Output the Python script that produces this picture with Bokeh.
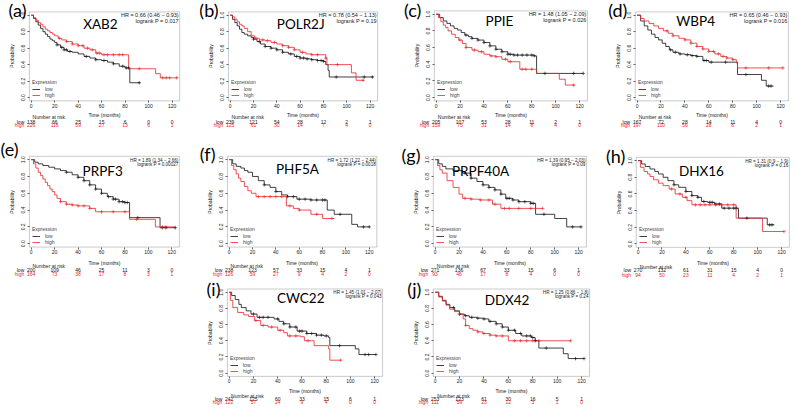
from bokeh.plotting import figure
from bokeh.layouts import column, row
from bokeh.models import (Range1d, Label, Legend, LegendItem, FixedTicker,
                          Spacer, PrintfTickFormatter, BoxAnnotation)
from bokeh.embed import file_html
from bokeh.resources import INLINE

# ------------------------------------------------------------------ data
tags = ["(a)", "(b)", "(c)", "(d)", "(e)", "(f)", "(g)", "(h)", "(i)", "(j)"]
genes = ["XAB2", "POLR2J", "PPIE", "WBP4", "PRPF3", "PHF5A", "PRPF40A", "DHX16", "CWC22", "DDX42"]
hr_texts = ["HR = 0.66 (0.46 \u2212 0.93)", "HR = 0.78 (0.54 \u2212 1.13)", "HR = 1.48 (1.05 \u2212 2.09)",
            "HR = 0.65 (0.46 \u2212 0.93)", "HR = 1.89 (1.34 \u2212 2.66)", "HR = 1.72 (1.22 \u2212 2.44)",
            "HR = 1.39 (0.95 \u2212 2.03)", "HR = 1.31 (0.9 \u2212 1.9)", "HR = 1.45 (1.01 \u2212 2.07)",
            "HR = 1.25 (0.86 \u2212 1.8)"]
p_texts = ["logrank P = 0.017", "logrank P = 0.19", "logrank P = 0.026", "logrank P = 0.016",
           "logrank P = 0.00027", "logrank P = 0.0018", "logrank P = 0.09", "logrank P = 0.16",
           "logrank P = 0.043", "logrank P = 0.24"]
risk_times = [0, 20, 40, 60, 80, 100, 120]
y_ticks = [0.0, 0.2, 0.4, 0.6, 0.8, 1.0]

# (a) XAB2
a_low_t = [0, 2, 4, 6, 8, 10, 12, 14, 16, 18, 20, 22, 25, 28, 31, 35, 40, 45, 50, 55, 60, 65, 70, 75, 80, 84, 93]
a_low_s = [1.0, 0.96, 0.92, 0.88, 0.84, 0.80, 0.77, 0.74, 0.71, 0.69, 0.67, 0.64, 0.61, 0.58, 0.56, 0.55, 0.53, 0.50, 0.48, 0.46, 0.45, 0.43, 0.41, 0.38, 0.36, 0.18, 0.18]
a_high_t = [0, 2, 4, 6, 8, 10, 12, 14, 16, 18, 20, 23, 26, 30, 35, 40, 45, 50, 55, 60, 83, 106, 110, 125]
a_high_s = [1.0, 0.97, 0.94, 0.91, 0.89, 0.86, 0.83, 0.81, 0.79, 0.77, 0.75, 0.72, 0.70, 0.68, 0.65, 0.63, 0.60, 0.58, 0.54, 0.52, 0.35, 0.29, 0.24, 0.24]
a_low_c = [22, 26, 28, 30, 33, 47, 55, 62, 70, 78, 81, 83, 92]
a_high_c = [24, 30, 35, 40, 44, 48, 52, 56, 58, 62, 65, 70, 75, 78, 92, 112, 115, 118, 124]
a_risk_low = [138, 66, 25, 15, 6, 0, 0]
a_risk_high = [226, 116, 59, 27, 13, 6, 1]

# (b) POLR2J
b_low_t = [0, 2, 4, 6, 8, 10, 12, 15, 18, 20, 23, 26, 30, 35, 40, 45, 50, 55, 60, 65, 70, 75, 80, 82, 84, 85, 123]
b_low_s = [1.0, 0.95, 0.91, 0.87, 0.83, 0.79, 0.77, 0.75, 0.73, 0.71, 0.68, 0.65, 0.62, 0.60, 0.58, 0.55, 0.53, 0.50, 0.48, 0.47, 0.46, 0.45, 0.44, 0.40, 0.33, 0.25, 0.25]
b_high_t = [0, 2, 4, 6, 8, 10, 12, 15, 18, 21, 25, 30, 35, 40, 45, 50, 55, 60, 65, 70, 82, 83, 104, 108, 115]
b_high_s = [1.0, 0.98, 0.95, 0.92, 0.89, 0.87, 0.84, 0.80, 0.75, 0.72, 0.70, 0.69, 0.67, 0.65, 0.63, 0.61, 0.58, 0.55, 0.53, 0.52, 0.48, 0.40, 0.30, 0.21, 0.21]
b_low_c = [20, 25, 30, 35, 40, 45, 52, 57, 60, 63, 66, 70, 75, 78, 80, 91, 115, 122]
b_high_c = [22, 28, 32, 38, 45, 50, 55, 62, 70, 75, 82, 92, 114]
b_risk_low = [239, 121, 54, 28, 12, 2, 1]
b_risk_high = [125, 61, 30, 14, 7, 4, 0]

# (c) PPIE
c_low_t = [0, 3, 6, 9, 12, 15, 18, 21, 24, 27, 30, 35, 40, 45, 50, 55, 60, 65, 70, 82, 84, 123]
c_low_s = [1.0, 0.96, 0.92, 0.89, 0.86, 0.83, 0.81, 0.78, 0.75, 0.73, 0.71, 0.69, 0.66, 0.62, 0.58, 0.55, 0.52, 0.51, 0.51, 0.50, 0.29, 0.29]
c_high_t = [0, 2, 4, 6, 8, 10, 13, 16, 19, 22, 25, 30, 35, 40, 45, 50, 55, 60, 70, 84, 103, 108, 116]
c_high_s = [1.0, 0.96, 0.91, 0.87, 0.84, 0.80, 0.76, 0.72, 0.69, 0.65, 0.60, 0.57, 0.55, 0.52, 0.50, 0.49, 0.46, 0.43, 0.34, 0.29, 0.22, 0.15, 0.15]
c_low_c = [25, 30, 35, 40, 45, 50, 55, 60, 62, 65, 68, 72, 76, 80, 82, 91, 115, 123]
c_high_c = [20, 25, 32, 38, 46, 50, 58, 62, 72, 75, 80, 115]
c_risk_low = [205, 107, 53, 28, 11, 2, 1]
c_risk_high = [159, 75, 31, 14, 8, 4, 0]

# (d) WBP4
d_low_t = [0, 3, 6, 9, 12, 15, 18, 21, 24, 27, 30, 35, 40, 45, 50, 55, 60, 82, 84, 104, 108, 114]
d_low_s = [1.0, 0.93, 0.87, 0.82, 0.77, 0.73, 0.70, 0.66, 0.62, 0.58, 0.55, 0.53, 0.52, 0.51, 0.50, 0.45, 0.43, 0.43, 0.28, 0.21, 0.14, 0.14]
d_high_t = [0, 3, 6, 10, 14, 18, 22, 26, 30, 35, 40, 45, 50, 55, 60, 65, 70, 75, 80, 83, 84, 122]
d_high_s = [1.0, 0.96, 0.93, 0.90, 0.87, 0.84, 0.81, 0.78, 0.75, 0.72, 0.70, 0.66, 0.62, 0.59, 0.56, 0.53, 0.50, 0.48, 0.46, 0.42, 0.36, 0.36]
d_low_c = [28, 32, 36, 42, 46, 50, 56, 58, 62, 74, 91, 110, 112]
d_high_c = [25, 30, 40, 45, 50, 55, 60, 64, 68, 72, 75, 80, 91, 110, 122]
d_risk_low = [167, 72, 28, 14, 11, 4, 0]
d_risk_high = [197, 110, 56, 28, 8, 2, 1]

# (e) PRPF3
e_low_t = [0, 3, 6, 10, 15, 20, 25, 30, 35, 40, 45, 50, 55, 60, 65, 70, 75, 80, 84, 110, 123]
e_low_s = [1.0, 0.97, 0.95, 0.93, 0.91, 0.89, 0.87, 0.85, 0.82, 0.79, 0.75, 0.70, 0.65, 0.60, 0.56, 0.53, 0.50, 0.49, 0.31, 0.19, 0.19]
e_high_t = [0, 2, 4, 6, 8, 10, 12, 14, 16, 18, 20, 22, 25, 30, 35, 40, 50, 55, 84, 106, 123]
e_high_s = [1.0, 0.95, 0.90, 0.85, 0.81, 0.77, 0.73, 0.69, 0.65, 0.62, 0.58, 0.54, 0.50, 0.47, 0.46, 0.45, 0.42, 0.38, 0.29, 0.20, 0.20]
e_low_c = [30, 40, 45, 50, 55, 60, 66, 70, 72, 75, 78, 80, 82, 91, 112, 115, 123]
e_high_c = [25, 30, 35, 40, 45, 50, 60, 70, 80, 90, 112, 115]
e_risk_low = [200, 109, 46, 25, 11, 3, 0]
e_risk_high = [164, 73, 38, 17, 8, 3, 1]

# (f) PHF5A
f_low_t = [0, 3, 6, 10, 13, 16, 20, 25, 30, 35, 40, 45, 50, 58, 70, 84, 90, 105, 110, 120]
f_low_s = [1.0, 0.95, 0.92, 0.90, 0.87, 0.85, 0.80, 0.75, 0.70, 0.67, 0.62, 0.58, 0.56, 0.53, 0.52, 0.40, 0.35, 0.23, 0.20, 0.20]
f_high_t = [0, 2, 4, 6, 8, 10, 13, 16, 19, 23, 49, 55, 60, 70, 80, 90]
f_high_s = [1.0, 0.93, 0.88, 0.83, 0.78, 0.74, 0.68, 0.63, 0.60, 0.56, 0.45, 0.42, 0.40, 0.35, 0.30, 0.30]
f_low_c = [30, 40, 50, 55, 60, 65, 70, 75, 80, 82, 95, 115, 120]
f_high_c = [25, 30, 35, 40, 45, 52, 60, 75, 88]
f_risk_low = [238, 123, 57, 33, 15, 4, 1]
f_risk_high = [126, 59, 27, 9, 4, 2, 0]

# (g) PRPF40A
g_low_t = [0, 3, 6, 9, 15, 23, 30, 35, 40, 45, 50, 55, 59, 65, 70, 80, 84, 100, 110, 122]
g_low_s = [1.0, 0.95, 0.92, 0.89, 0.87, 0.84, 0.78, 0.74, 0.70, 0.67, 0.64, 0.59, 0.54, 0.52, 0.50, 0.48, 0.35, 0.30, 0.20, 0.20]
g_high_t = [0, 2, 4, 6, 10, 15, 20, 23, 30, 37, 48, 55, 90]
g_high_s = [1.0, 0.93, 0.88, 0.84, 0.75, 0.67, 0.59, 0.54, 0.53, 0.52, 0.47, 0.42, 0.42]
g_low_c = [25, 30, 40, 45, 50, 55, 60, 62, 65, 70, 75, 80, 82, 91, 115, 122]
g_high_c = [25, 30, 38, 45, 50, 58, 62, 70, 80, 90]
g_risk_low = [271, 136, 67, 33, 15, 6, 1]
g_risk_high = [93, 46, 17, 8, 4, 0, 0]

# (h) DHX16
h_low_t = [0, 3, 6, 10, 14, 17, 21, 25, 30, 34, 40, 45, 50, 53, 58, 64, 70, 84, 108, 114]
h_low_s = [1.0, 0.96, 0.93, 0.90, 0.87, 0.84, 0.80, 0.76, 0.71, 0.68, 0.63, 0.58, 0.56, 0.51, 0.50, 0.48, 0.43, 0.31, 0.23, 0.23]
h_high_t = [0, 2, 5, 8, 10, 13, 17, 21, 26, 31, 37, 41, 45, 82, 104, 122]
h_high_s = [1.0, 0.92, 0.87, 0.84, 0.81, 0.77, 0.73, 0.70, 0.66, 0.60, 0.56, 0.52, 0.47, 0.31, 0.15, 0.15]
h_low_c = [30, 40, 45, 50, 55, 60, 62, 65, 68, 72, 76, 80, 82, 91, 110, 112]
h_high_c = [28, 35, 40, 48, 52, 56, 60, 65, 70, 75, 80, 122]
h_risk_low = [270, 132, 61, 31, 15, 4, 0]
h_risk_high = [94, 50, 23, 11, 4, 2, 1]

# (i) CWC22
i_low_t = [0, 2, 5, 8, 10, 14, 18, 23, 37, 41, 45, 50, 56, 64, 72, 78, 82, 83, 104, 107, 121]
i_low_s = [1.0, 0.96, 0.91, 0.85, 0.81, 0.77, 0.73, 0.69, 0.67, 0.64, 0.61, 0.57, 0.52, 0.49, 0.47, 0.46, 0.44, 0.34, 0.30, 0.23, 0.23]
i_high_t = [0, 1, 3, 7, 12, 16, 21, 26, 32, 40, 45, 48, 59, 62, 70, 82, 83, 92]
i_high_s = [1.0, 0.90, 0.81, 0.75, 0.72, 0.70, 0.65, 0.59, 0.57, 0.53, 0.50, 0.46, 0.45, 0.40, 0.34, 0.30, 0.16, 0.16]
i_low_c = [20, 25, 28, 32, 40, 45, 50, 55, 58, 60, 64, 68, 72, 76, 80, 91, 112, 115, 121]
i_high_c = [22, 28, 35, 42, 50, 55, 65, 92]
i_risk_low = [242, 125, 60, 33, 15, 6, 1]
i_risk_high = [122, 57, 24, 9, 4, 0, 0]

# (j) DDX42
j_low_t = [0, 3, 6, 9, 12, 16, 20, 24, 28, 34, 39, 44, 50, 55, 60, 66, 71, 79, 82, 85, 105, 109, 122]
j_low_s = [1.0, 0.95, 0.90, 0.85, 0.81, 0.77, 0.73, 0.71, 0.69, 0.68, 0.67, 0.64, 0.61, 0.57, 0.53, 0.49, 0.46, 0.44, 0.40, 0.31, 0.24, 0.18, 0.18]
j_high_t = [0, 3, 6, 9, 12, 16, 20, 23, 25, 28, 31, 35, 39, 45, 50, 60, 111]
j_high_s = [1.0, 0.94, 0.89, 0.84, 0.79, 0.76, 0.73, 0.67, 0.59, 0.55, 0.53, 0.51, 0.49, 0.47, 0.46, 0.40, 0.40]
j_low_c = [15, 20, 25, 30, 35, 40, 45, 50, 55, 60, 65, 70, 75, 78, 80, 82, 91, 115, 122]
j_high_c = [20, 25, 35, 40, 45, 50, 55, 65, 70, 75, 80, 85, 111]
j_risk_low = [253, 123, 61, 30, 16, 5, 1]
j_risk_high = [111, 59, 23, 12, 3, 1, 0]

curves = [
    (a_low_t, a_low_s, a_high_t, a_high_s, a_low_c, a_high_c, a_risk_low, a_risk_high),
    (b_low_t, b_low_s, b_high_t, b_high_s, b_low_c, b_high_c, b_risk_low, b_risk_high),
    (c_low_t, c_low_s, c_high_t, c_high_s, c_low_c, c_high_c, c_risk_low, c_risk_high),
    (d_low_t, d_low_s, d_high_t, d_high_s, d_low_c, d_high_c, d_risk_low, d_risk_high),
    (e_low_t, e_low_s, e_high_t, e_high_s, e_low_c, e_high_c, e_risk_low, e_risk_high),
    (f_low_t, f_low_s, f_high_t, f_high_s, f_low_c, f_high_c, f_risk_low, f_risk_high),
    (g_low_t, g_low_s, g_high_t, g_high_s, g_low_c, g_high_c, g_risk_low, g_risk_high),
    (h_low_t, h_low_s, h_high_t, h_high_s, h_low_c, h_high_c, h_risk_low, h_risk_high),
    (i_low_t, i_low_s, i_high_t, i_high_s, i_low_c, i_high_c, i_risk_low, i_risk_high),
    (j_low_t, j_low_s, j_high_t, j_high_s, j_low_c, j_high_c, j_risk_low, j_risk_high),
]

# ------------------------------------------------------------------ layout (reference pixels)
SX = 790 / 798
SY = 405 / 413
col_edges = [0, 200, 400, 600, 798]
row_edges = [0, 138, 283, 413]
cx = [round(e * SX) for e in col_edges]
cy = [round(e * SY) for e in row_edges]

# col, row, x of 0 months, x of 120 months, y of 1.0, y of 0.0, tag gap, tag rise
geom = [
    (0, 0, 31, 173.3, 15, 99, 3, 2.0),
    (1, 0, 232, 373.3, 15, 99, 10, 2.0),
    (2, 0, 440, 585, 14, 99, 13, 1.0),
    (3, 0, 643, 788, 15, 99, 8, 2.0),
    (0, 1, 31, 173, 162.3, 248, 11, 7),
    (1, 1, 231, 372.5, 162.3, 248, 12, 2),
    (2, 1, 439, 584, 162.3, 248, 13, 1),
    (3, 1, 644, 789, 163.3, 248.3, 11, 1.5),
    (1, 2, 231, 378, 297.5, 380, 7, 0),
    (2, 2, 439, 587, 297.5, 380, 12, 0),
]
row_text = [
    dict(time=1, nar=20, low=24.7, high=28, hr1=3.4, hr2=9.4, hrsize="5.5px"),
    dict(time=2, nar=23, low=27, high=31.3, hr1=4, hr2=8.5, hrsize="4.6px"),
    dict(time=1, nar=23, low=26, high=29, hr1=3.5, hr2=7.5, hrsize="4.6px"),
]
gene_pos = [(59, 0.89), (60.5, 0.89), (53, 0.92), (49, 0.93), (61, 0.87),
            (58.5, 0.89), (38, 0.87), (53, 0.87), (59, 0.93), (59, 0.91)]

RED = "#e8262b"
BLACK = "#111111"
GREY = "#222222"
FONT = "Liberation Sans"
XR = (-1.5, 126.5)
YR = (-0.04, 1.04)


def surv_at(ts, ss, t):
    v = ss[0]
    for ti, si in zip(ts, ss):
        if ti <= t:
            v = si
    return v


def small_label(**kw):
    base = dict(text_font=FONT, text_font_size="5px", text_baseline="middle",
                text_color=GREY, text_align="center")
    base.update(kw)
    return Label(**base)


def make_panel(idx):
    col, rw, x0, x120, y1, y0, tgap, trise = geom[idx]
    k = (x120 - x0) / 120.0
    py = y0 - y1
    w = cx[col + 1] - cx[col]
    h = cy[rw + 1] - cy[rw]
    xa = (cx[col] / SX - x0) / k
    xb = (cx[col + 1] / SX - x0) / k
    yt = (y0 - cy[rw] / SY) / py
    yb = (y0 - cy[rw + 1] / SY) / py
    p = figure(width=w, height=h, x_range=Range1d(xa, xb), y_range=Range1d(yb, yt),
               toolbar_location=None, output_backend="svg",
               min_border=0, min_border_left=0, min_border_right=0,
               min_border_top=0, min_border_bottom=0)
    p.outline_line_color = None
    p.xgrid.visible = False
    p.ygrid.visible = False
    p.background_fill_color = "white"
    p.border_fill_color = "white"

    p.add_layout(BoxAnnotation(left=XR[0], right=XR[1], bottom=YR[0], top=YR[1],
                               fill_alpha=0, line_color="black", line_width=0.7))

    lt, ls, ht, hs, lc, hc, rl, rh = curves[idx]
    r_low = p.step(lt, ls, mode="after", line_color=BLACK, line_width=0.8)
    r_high = p.step(ht, hs, mode="after", line_color=RED, line_width=0.8)
    p.scatter(lc, [surv_at(lt, ls, t) for t in lc], marker="cross", size=3.5,
              line_color=BLACK, line_width=0.6)
    p.scatter(hc, [surv_at(ht, hs, t) for t in hc], marker="cross", size=3.5,
              line_color=RED, line_width=0.6)

    rt = row_text[rw]
    for ax in (p.xaxis[0], p.yaxis[0]):
        ax.axis_line_color = None
        ax.major_tick_line_color = "black"
        ax.major_tick_line_width = 0.6
        ax.major_tick_out = 2
        ax.major_tick_in = 0
        ax.minor_tick_line_color = None
        ax.major_label_text_font_size = "5px"
        ax.major_label_text_font = FONT
        ax.major_label_text_color = GREY
        ax.axis_label_text_font_size = "5px"
        ax.axis_label_text_font = FONT
        ax.axis_label_text_font_style = "normal"
        ax.axis_label_text_color = GREY
    p.xaxis.fixed_location = YR[0]
    p.xaxis.bounds = XR
    p.xaxis.ticker = FixedTicker(ticks=risk_times)
    p.xaxis.major_label_standoff = 1
    p.xaxis.axis_label = "Time (months)"
    p.xaxis.axis_label_standoff = rt["time"]
    p.yaxis.fixed_location = XR[0]
    p.yaxis.bounds = YR
    p.yaxis.ticker = FixedTicker(ticks=y_ticks)
    p.yaxis.formatter = PrintfTickFormatter(format="%.1f")
    p.yaxis.major_label_orientation = "vertical"
    p.yaxis.major_label_standoff = 2
    p.yaxis.axis_label = "Probability"
    p.yaxis.axis_label_standoff = 4

    box_left_px = (x0 + XR[0] * k) * SX - cx[col]
    box_bottom_px = cy[rw + 1] - (y0 - YR[0] * py) * SY
    leg = Legend(items=[LegendItem(label="low", renderers=[r_low]),
                        LegendItem(label="high", renderers=[r_high])],
                 title="Expression", location=(round(box_left_px + 3), round(box_bottom_px + 2)),
                 label_text_font_size="5px", label_text_font=FONT,
                 title_text_font_size="5px", title_text_font=FONT,
                 title_text_font_style="normal", title_standoff=1,
                 glyph_width=8, glyph_height=4, label_height=4, label_standoff=5,
                 spacing=0, padding=0, margin=0,
                 border_line_color=None, background_fill_alpha=0)
    p.add_layout(leg)

    p.add_layout(Label(x=XR[0], y=YR[1], x_offset=-tgap * SX, y_offset=trise * SY,
                       text=tags[idx], text_font="Lato", text_font_size="18px",
                       text_align="right", text_baseline="middle", text_color="black"))
    gx, gy = gene_pos[idx]
    p.add_layout(Label(x=gx, y=gy, text=genes[idx], text_font="Lato",
                       text_font_size="13.5px", text_align="center", text_baseline="middle",
                       text_color="black"))
    p.add_layout(small_label(x=XR[1], y=YR[1], x_offset=-1, y_offset=-rt["hr1"] * SY,
                             text=hr_texts[idx], text_font_size=rt["hrsize"], text_align="right"))
    p.add_layout(small_label(x=XR[1], y=YR[1], x_offset=-1, y_offset=-rt["hr2"] * SY,
                             text=p_texts[idx], text_font_size=rt["hrsize"], text_align="right"))
    p.add_layout(small_label(x=15, y=0, y_offset=-rt["nar"] * SY, text="Number at risk"))
    for name, dy, color in (("low", rt["low"], BLACK), ("high", rt["high"], RED)):
        p.add_layout(small_label(x=0, y=0, x_offset=-7 * SX, y_offset=-dy * SY, text=name,
                                 text_align="right", text_color=color))
    for t, nl, nh in zip(risk_times, rl, rh):
        p.add_layout(small_label(x=t, y=0, y_offset=-rt["low"] * SY, text=str(nl),
                                 text_color=BLACK))
        p.add_layout(small_label(x=t, y=0, y_offset=-rt["high"] * SY, text=str(nh),
                                 text_color=RED))
    return p


panels = [make_panel(i) for i in range(10)]
row1 = row(panels[0:4])
row2 = row(panels[4:8])
row3 = row([Spacer(width=cx[1] - cx[0], height=cy[3] - cy[2]), panels[8], panels[9],
            Spacer(width=cx[4] - cx[3], height=cy[3] - cy[2])])
layout = column(row1, row2, row3)

open("out.html", "w").write(file_html(layout, INLINE))
